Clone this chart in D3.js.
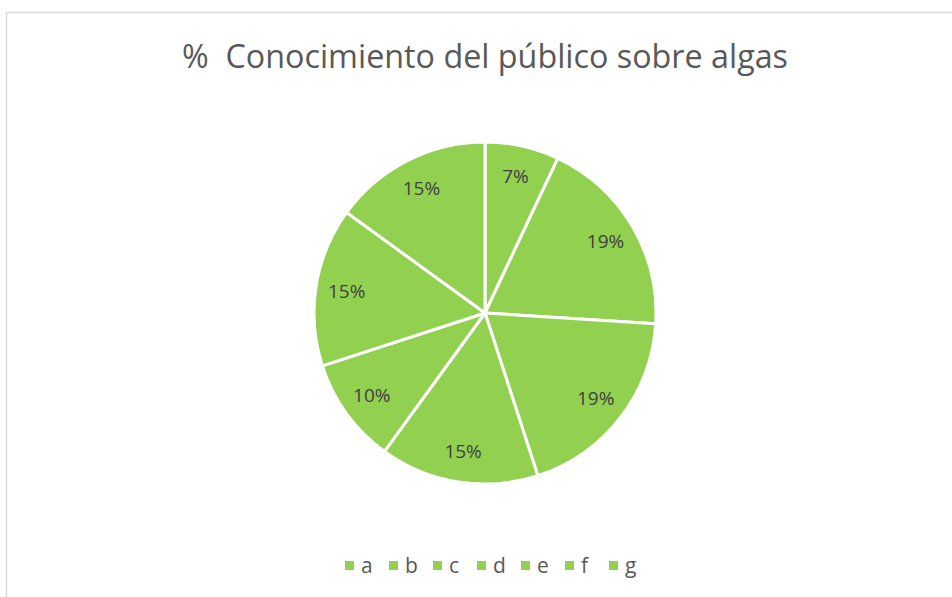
<!DOCTYPE html>
<html>
<head>
<meta charset="utf-8">
<script src="https://cdn.jsdelivr.net/npm/d3@7"></script>
<style>
  body { margin: 0; background: #fff; }
  svg { display: block; font-family: "Open Sans", "Noto Sans", sans-serif; }
</style>
</head>
<body>
<div id="chart"></div>
<script>
// chart data
var categories = ["a", "b", "c", "d", "e", "f", "g"];
var values = [7, 19, 19, 15, 10, 15, 15];
var labels = ["7%", "19%", "19%", "15%", "10%", "15%", "15%"];
var title = "%\u00a0 Conocimiento del público sobre algas";

var width = 952, height = 597;
var green = "#92d050";

var svg = d3.select("#chart").append("svg")
    .attr("width", width)
    .attr("height", height);

// chart area border
svg.append("rect")
    .attr("x", 6.5).attr("y", 12.5)
    .attr("width", width).attr("height", height)
    .attr("fill", "none")
    .attr("stroke", "#d9d9d9")
    .attr("stroke-width", 1.5);

// title
svg.append("text")
    .attr("x", 485).attr("y", 68)
    .attr("text-anchor", "middle")
    .attr("font-size", 32)
    .attr("fill", "#595959")
    .attr("textLength", 606)
    .attr("lengthAdjust", "spacingAndGlyphs")
    .text(title);

var data = categories.map(function(c, i) {
    return { name: c, value: values[i], label: labels[i] };
});

var radius = 171;
var g = svg.append("g")
    .attr("transform", "translate(485,313)");

var pie = d3.pie()
    .sort(null)
    .value(function(d) { return d.value; });

var arc = d3.arc().innerRadius(0).outerRadius(radius);
var labelArc = d3.arc().innerRadius(140).outerRadius(140);

var arcs = pie(data);

g.selectAll("path")
    .data(arcs)
    .enter().append("path")
    .attr("d", arc)
    .attr("fill", green)
    .attr("stroke", "#fff")
    .attr("stroke-width", 3)
    .attr("stroke-linejoin", "round");

g.selectAll("text.lbl")
    .data(arcs)
    .enter().append("text")
    .attr("class", "lbl")
    .attr("transform", function(d) { return "translate(" + labelArc.centroid(d) + ")"; })
    .attr("text-anchor", "middle")
    .attr("dy", "0.35em")
    .attr("font-size", 19)
    .attr("fill", "#404040")
    .text(function(d) { return d.data.label; });

// legend
var legendX = d3.scalePoint()
    .domain(categories)
    .range([345, 609]);

var legend = svg.append("g").selectAll("g")
    .data(categories)
    .enter().append("g")
    .attr("transform", function(d) { return "translate(" + legendX(d) + ",566)"; });

legend.append("rect")
    .attr("x", 0).attr("y", -5)
    .attr("width", 9).attr("height", 9)
    .attr("fill", green);

legend.append("text")
    .attr("x", 16)
    .attr("dy", "0.35em")
    .attr("font-size", 21)
    .attr("fill", "#595959")
    .text(function(d) { return d; });
</script>
</body>
</html>
